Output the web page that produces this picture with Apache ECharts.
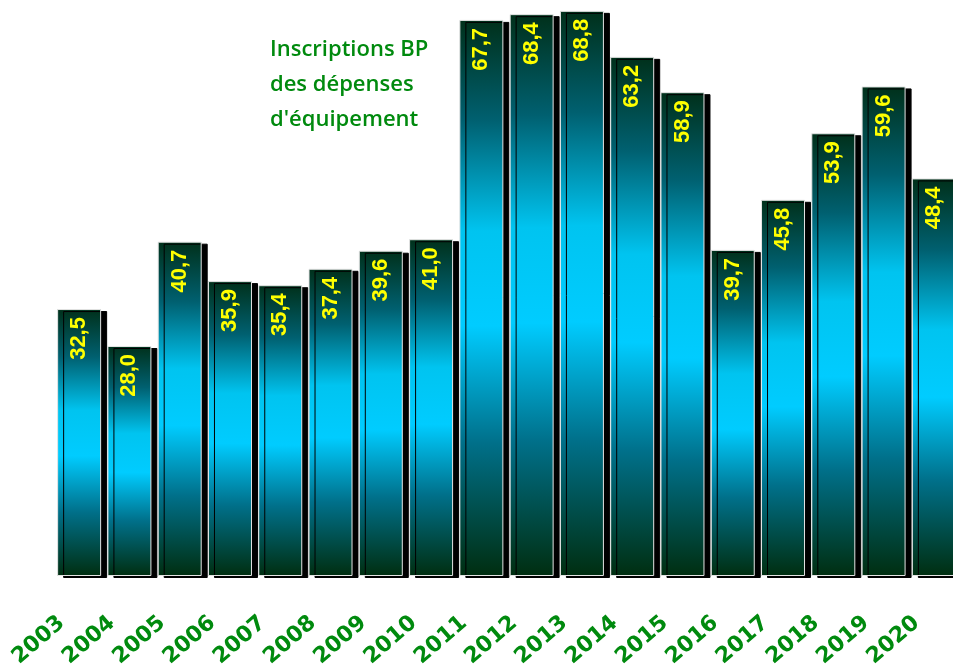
<!DOCTYPE html>
<html>
<head>
<meta charset="utf-8">
<script src="https://cdn.jsdelivr.net/npm/echarts@6/dist/echarts.min.js"></script>
<style>
html,body{margin:0;padding:0;background:#fff;}
#chart{width:953px;height:664px;}
</style>
</head>
<body>
<div id="chart"></div>
<script>
const years = ['2003','2004','2005','2006','2007','2008','2009','2010','2011','2012','2013','2014','2015','2016','2017','2018','2019','2020'];
const values = [32.5, 28.0, 40.7, 35.9, 35.4, 37.4, 39.6, 41.0, 67.7, 68.4, 68.8, 63.2, 58.9, 39.7, 45.8, 53.9, 59.6, 48.4];
const titleLines = ['Inscriptions BP', 'des dépenses', "d'équipement"];

const chart = echarts.init(document.getElementById('chart'), null, {renderer: 'canvas'});
const grad = new echarts.graphic.LinearGradient(0, 0, 0, 1, [
  {offset: 0, color: '#00301a'},
  {offset: 0.18, color: '#006070'},
  {offset: 0.38, color: '#00c4f0'},
  {offset: 0.55, color: '#00ccff'},
  {offset: 0.76, color: '#00708a'},
  {offset: 1, color: '#002e10'}
]);
chart.setOption({
  backgroundColor: '#ffffff',
  animation: false,
  grid: {left: 54, top: 1, width: 905, height: 575, containLabel: false, outerBoundsMode: 'none'},
  xAxis: {
    type: 'category',
    data: years,
    axisLine: {show: false},
    axisTick: {show: false},
    axisLabel: {
      interval: 0,
      rotate: 41,
      margin: 29,
      padding: [0, 23, 0, 0],
      color: '#008a0e',
      fontFamily: 'DejaVu Sans',
      fontWeight: 'bold',
      fontSize: 22
    }
  },
  yAxis: {
    type: 'value',
    min: 0,
    max: 70,
    show: false,
    splitLine: {show: false}
  },
  series: [{
    type: 'bar',
    data: values,
    barWidth: 44,
    itemStyle: {
      color: grad,
      borderColor: '#e4e4e4',
      borderWidth: 1,
      shadowColor: '#000000',
      shadowOffsetX: 6,
      shadowOffsetY: 2,
      shadowBlur: 0
    },
    label: {
      show: true,
      position: 'insideTop',
      rotate: 90,
      align: 'right',
      verticalAlign: 'middle',
      distance: 8,
      color: '#ffff00',
      fontFamily: 'Liberation Sans',
      fontWeight: 'bold',
      fontSize: 22,
      formatter: p => p.value.toFixed(1).replace('.', ',')
    }
  }],
  graphic: [{
    type: 'text',
    left: 270,
    top: 32,
    style: {
      text: titleLines.join('\n'),
      fill: '#008a0e',
      font: '600 22px "Open Sans"',
      lineHeight: 35,
      align: 'center',
      width: 162
    }
  }]
});
</script>
</body>
</html>
